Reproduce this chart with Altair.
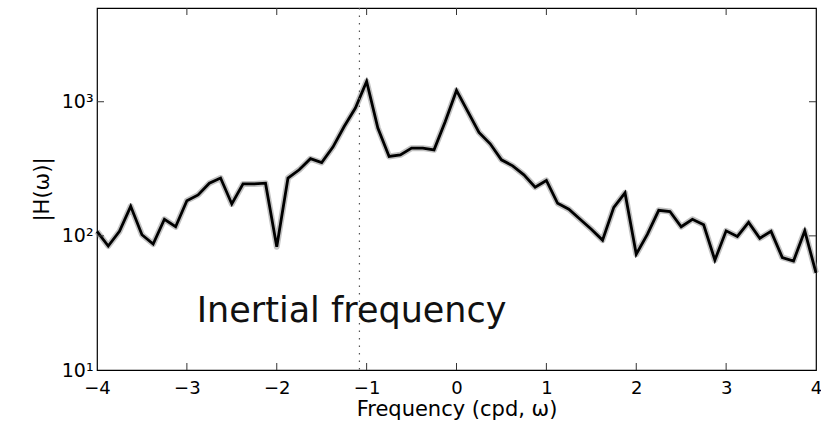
import altair as alt
import pandas as pd

# Frequency grid (cpd) and transfer-function magnitude |H(omega)|
freq = [-4 + 0.125 * i for i in range(65)]
magnitude = [108, 84, 108, 166, 102, 87, 133, 117, 183, 202, 247, 270, 173, 244, 244, 247,
             83, 270, 311, 376, 352, 459, 654, 898, 1417,
             637, 391, 402, 451, 451, 438, 713, 1214,
             847, 590, 486, 369, 333, 285, 231, 259,
             175, 158, 133, 112, 93, 163, 209, 73,
             103, 155, 152, 117, 133, 121, 66, 109,
             99, 126, 96, 108, 69, 65, 109, 53]

x_ticks = [-4, -3, -2, -1, 0, 1, 2, 3, 4]
x_inner_ticks = [-3, -2, -1, 0, 1, 2, 3]
y_ticks = [10, 100, 1000]
y_inner_ticks = [100, 1000]
inertial_freq = [-1.08]
annot_text = ["Inertial frequency"]
annot_x = [-2.89]
annot_y = [22.8]

W, H = 719, 362
TL = 7

df = pd.DataFrame({"f": freq, "h": magnitude})
xscale = alt.Scale(domain=[-4, 4], nice=False, zero=False)
yscale = alt.Scale(type="log", domain=[10, 5000], nice=False)

FONT = "DejaVu Sans"

xaxis = alt.Axis(values=x_ticks, format="d", labelFontSize=18, labelFont=FONT,
                 labelColor="black", labelPadding=9, title="Frequency (cpd, ω)",
                 titleFont=FONT, titleFontSize=21, titleFontWeight="normal",
                 titleColor="black", titlePadding=1, domain=False, ticks=False,
                 grid=False, labelFlush=False)
yaxis = alt.Axis(values=y_ticks,
                 labelExpr="datum.value == 10 ? '10¹' : datum.value == 100 ? '10²' : '10³'",
                 labelFontSize=19, labelFont=FONT, labelColor="black", labelPadding=4,
                 labelBaseline="middle", title="|H(ω)|", titleFont=FONT, titleFontSize=21,
                 titleFontWeight="normal", titleColor="black", titlePadding=9,
                 domain=False, ticks=False, grid=False, labelFlush=False)

band = alt.Chart(df).mark_line(color="#9a9a9a", strokeWidth=6, opacity=0.6,
                               strokeJoin="round").encode(
    x=alt.X("f:Q", scale=xscale, axis=xaxis),
    y=alt.Y("h:Q", scale=yscale, axis=yaxis))

line = alt.Chart(df).mark_line(color="black", strokeWidth=2.8, strokeJoin="miter").encode(
    x=alt.X("f:Q", scale=xscale),
    y=alt.Y("h:Q", scale=yscale))

dotted = alt.Chart(pd.DataFrame({"f": inertial_freq})).mark_rule(
    color="#555555", strokeWidth=1.2, strokeDash=[1.5, 6]).encode(
    x=alt.X("f:Q", scale=xscale), y=alt.value(0), y2=alt.value(H))

xt = pd.DataFrame({"f": x_inner_ticks})
ticks_bottom = alt.Chart(xt).mark_rule(color="#333333", strokeWidth=1).encode(
    x=alt.X("f:Q", scale=xscale), y=alt.value(H), y2=alt.value(H - TL))
ticks_top = alt.Chart(xt).mark_rule(color="#333333", strokeWidth=1).encode(
    x=alt.X("f:Q", scale=xscale), y=alt.value(0), y2=alt.value(TL))

yt = pd.DataFrame({"h": y_inner_ticks})
ticks_left = alt.Chart(yt).mark_rule(color="#333333", strokeWidth=1).encode(
    y=alt.Y("h:Q", scale=yscale), x=alt.value(0), x2=alt.value(TL))
ticks_right = alt.Chart(yt).mark_rule(color="#333333", strokeWidth=1).encode(
    y=alt.Y("h:Q", scale=yscale), x=alt.value(W - TL), x2=alt.value(W))

annot = alt.Chart(pd.DataFrame({"f": annot_x, "h": annot_y, "t": annot_text})).mark_text(
    font=FONT, fontSize=35, align="left", baseline="alphabetic", color="#111111").encode(
    x=alt.X("f:Q", scale=xscale), y=alt.Y("h:Q", scale=yscale), text="t:N")

chart = alt.layer(band, line, dotted, ticks_bottom, ticks_top, ticks_left, ticks_right,
                  annot).properties(
    width=W, height=H,
    autosize=alt.AutoSizeParams(type="none"),
    padding={"left": 97, "top": 8, "right": 5, "bottom": 62},
    background="white",
).configure_view(stroke="black", strokeWidth=1.2)

chart.save("out.html", embed_options={"renderer": "svg", "actions": False})
